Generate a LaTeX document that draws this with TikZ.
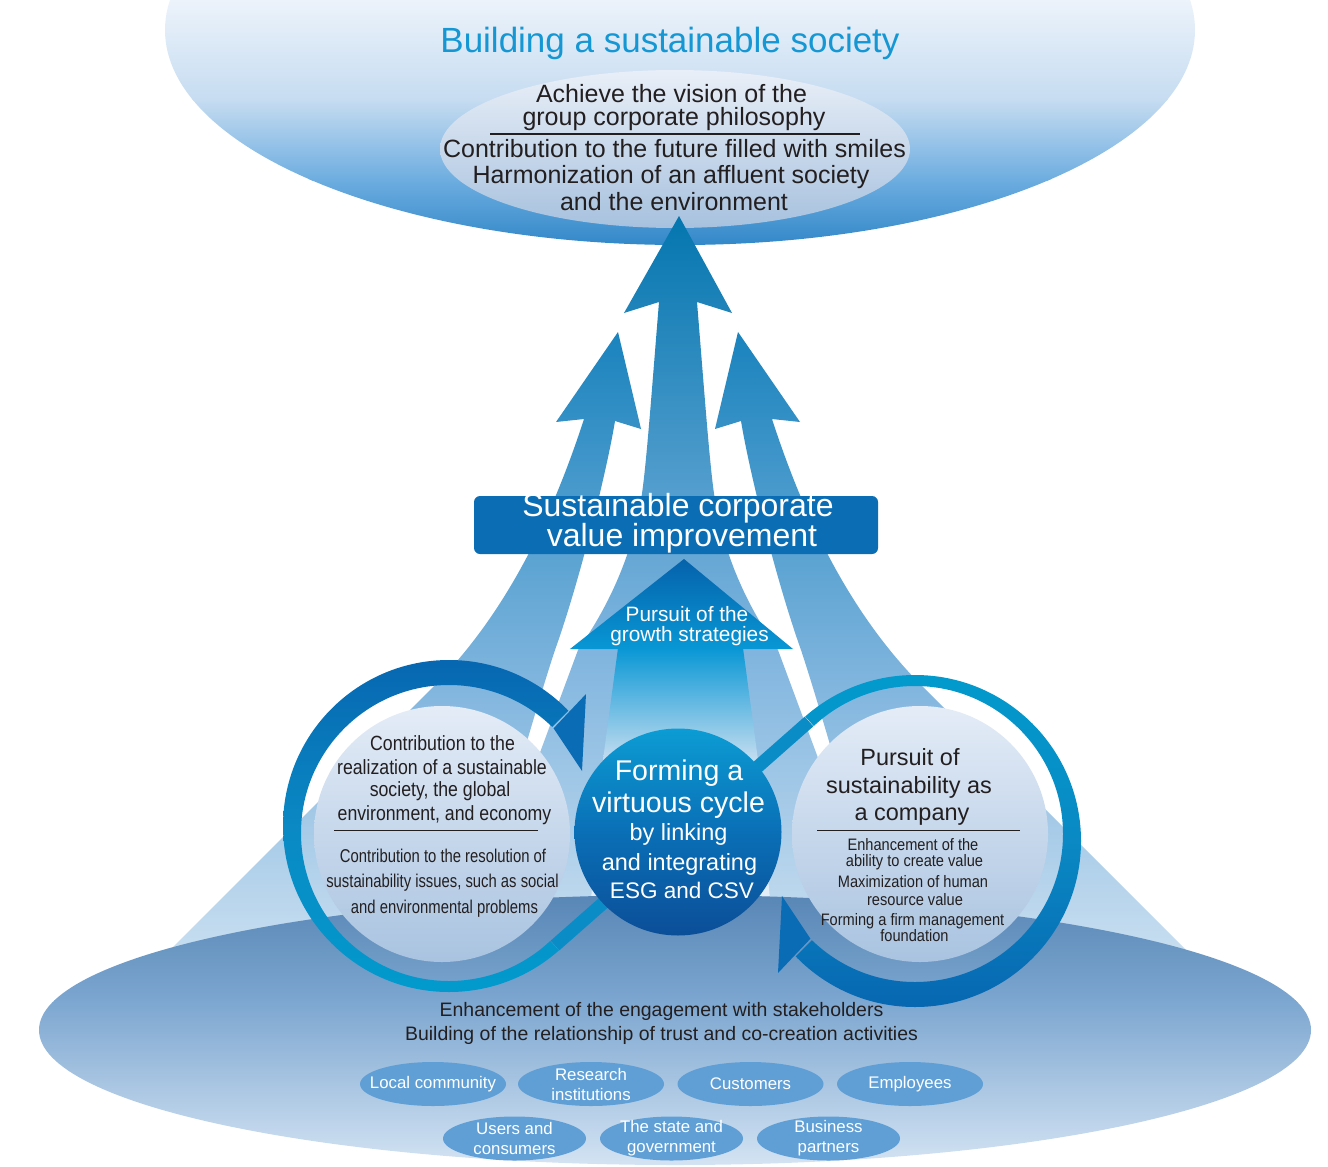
\documentclass[tikz,border=0pt]{standalone}
\usepackage{fontspec}
\setmainfont{Liberation Sans}
\newfontfamily\condA[FakeStretch=0.86]{Liberation Sans}
\newfontfamily\condB[FakeStretch=0.80]{Liberation Sans}
\newfontfamily\condC[FakeStretch=0.88]{Liberation Sans}
\usetikzlibrary{shapes.geometric}
\definecolor{txtdark}{HTML}{231F20}
\definecolor{titleblue}{HTML}{1597D3}
\definecolor{boxblue}{HTML}{0B6EB5}
\definecolor{stakeblue}{HTML}{5F9FD6}
\definecolor{headblue}{HTML}{0A6CB5}
\definecolor{diagblue}{HTML}{0A8DC7}
\definecolor{topA}{HTML}{EEF4FB}
\definecolor{topB}{HTML}{C6DCF1}
\definecolor{topC}{HTML}{6DADE0}
\definecolor{topD}{HTML}{2E85C7}
\definecolor{innerTop}{HTML}{E9EFF8}
\definecolor{innerBot}{HTML}{A7C1DE}
\definecolor{sidetop}{HTML}{1A83BD}
\definecolor{sidemid}{HTML}{84B7DF}
\definecolor{fanbot}{HTML}{E4EEF7}
\definecolor{ctop}{HTML}{0476AF}
\definecolor{cmid}{HTML}{7DB3DE}
\definecolor{pgtop}{HTML}{0562AB}
\definecolor{pgbot}{HTML}{0897D5}
\definecolor{pgfade}{HTML}{C4DDF0}
\definecolor{pgfadeb}{HTML}{E4EEF8}
\definecolor{botA}{HTML}{5785B4}
\definecolor{botB}{HTML}{7CA6D0}
\definecolor{botC}{HTML}{D6E5F4}
\definecolor{disctop}{HTML}{E4ECF7}
\definecolor{discbot}{HTML}{A9C3E0}
\definecolor{ringdark}{HTML}{0767B1}
\definecolor{ringmid}{HTML}{0A89C4}
\definecolor{ringcyan}{HTML}{029ACD}
\definecolor{circtop}{HTML}{0C9CD4}
\definecolor{circmid}{HTML}{0A6FB6}
\definecolor{circbot}{HTML}{0B4E98}
\tikzset{
  lbl/.style={anchor=base, inner sep=0pt, text=txtdark},
  wlbl/.style={anchor=base, inner sep=0pt, text=white},
  stake/.style={ellipse, fill=stakeblue, inner sep=0pt, minimum width=109.5pt,
     minimum height=33pt},
  rowb/.style={stake, minimum width=107.25pt},
  staketxt/.style={inner sep=0pt, text=white, align=center,
     font=\fontsize{12.6pt}{15pt}\selectfont},
  disc/.style={circle, inner sep=0pt, minimum size=192pt, top color=disctop, bottom color=discbot},
  rulel/.style={txtdark, line width=0.8pt}
}
\begin{document}
\begin{tikzpicture}[x=0.75pt,y=-0.75pt]
\useasboundingbox (0,0) rectangle (1328,1167);

% ---- top ellipse
\begin{scope}
  \clip (680,30) ellipse [x radius=515, y radius=215];
  \shade[top color=topA, bottom color=topB] (0,-5) rectangle (1328,100);
  \shade[top color=topB, bottom color=topC] (0,99.5) rectangle (1328,180);
  \shade[top color=topC, bottom color=topD] (0,179.5) rectangle (1328,250);
\end{scope}
\shade[top color=innerTop, bottom color=innerBot] (675,149) ellipse [x radius=235, y radius=79];

% ---- big arrows
\shade[top color=sidetop, bottom color=fanbot, middle color=sidemid]
  (618,332) -- (641,429) -- (615,421) .. controls (607,470) and (580,580) .. (555,650)
  .. controls (535,710) and (480,900) .. (440,1060) -- (60,1060) -- (433,687)
  .. controls (500,620) and (548,530) .. (584,419) -- (556,422) -- cycle;
\shade[top color=sidetop, bottom color=fanbot, middle color=sidemid]
  (738,332) -- (715,429) -- (741,421) .. controls (749,470) and (776,580) .. (801,650)
  .. controls (821,710) and (876,900) .. (916,1060) -- (1296,1060) -- (923,687)
  .. controls (856,620) and (808,530) .. (772,419) -- (800,422) -- cycle;
\shade[top color=ctop, bottom color=fanbot, middle color=cmid]
  (679,216) -- (732,313) -- (697,302) .. controls (705,400) and (710,470) .. (715,500)
  .. controls (725,560) and (750,610) .. (778,650) -- (930,1060) -- (426,1060)
  -- (578,650) .. controls (606,610) and (631,560) .. (641,500)
  .. controls (646,470) and (651,400) .. (659,302) -- (624,313) -- cycle;

% ---- value box
\node[fill=boxblue, rounded corners=4.5pt, minimum width=303pt, minimum height=43.5pt, inner sep=0pt] (scv) at (676,525) {};
\node[wlbl, font=\fontsize{24pt}{28pt}\selectfont] (scv1) at (678,516.5) {Sustainable corporate};
\node[wlbl, font=\fontsize{24pt}{28pt}\selectfont] (scv2) at (682,546) {value improvement};

% ---- growth strategies arrow
\shade[top color=pgbot, bottom color=pgfade] (618,648) -- (743,648) -- (758,760) -- (603,760) -- cycle;
\shade[top color=pgfade, bottom color=pgfadeb] (603,759.5) -- (758,759.5) -- (770,900) -- (591,900) -- cycle;
\shade[top color=pgtop, bottom color=pgbot] (684,559) -- (793,649) -- (570,649) -- cycle;
\node[wlbl, font=\fontsize{15.6pt}{18pt}\selectfont] (pg1) at (687,621.7) {Pursuit of the};
\node[wlbl, font=\fontsize{15.6pt}{18pt}\selectfont] (pg2) at (689.5,641.7) {growth strategies};

% ---- bottom ellipse
\begin{scope}
  \clip (675,1030) ellipse [x radius=636, y radius=135];
  \shade[top color=botA, bottom color=botB] (0,890) rectangle (1328,1000.5);
  \shade[top color=botB, bottom color=botC] (0,1000) rectangle (1328,1170);
\end{scope}

% ---- discs
\node[disc] (ldisc) at (442,834) {};
\node[disc] (rdisc) at (920,834) {};

% ---- rings
\begin{scope}
  \clip (449,830) -- (624.3,1022.1) -- (449,1090) -- (189,830) -- (449,570) -- (632.8,646.2) -- cycle;
  \shade[even odd rule, top color=ringdark, bottom color=ringcyan, middle color=ringmid]
    (449,826) circle [radius=166] (449,833) circle [radius=148];
\end{scope}
\begin{scope}
  \clip (915,837) -- (739.8,644.9) -- (915,577) -- (1175,837) -- (915,1097) -- (731.2,1020.8) -- cycle;
  \shade[even odd rule, top color=ringcyan, bottom color=ringdark, middle color=ringmid]
    (915,841) circle [radius=166] (915,834) circle [radius=148];
\end{scope}
\coordinate (dA) at (555,945.5);
\coordinate (dB) at (809,721.5);
\draw[diagblue, line width=9.75pt] (dA) -- (dB);
\fill[headblue] (553.6,728.3) -- (586,694) -- (582,771) -- cycle;
\fill[headblue] (810.4,938.7) -- (778,973) -- (782,896) -- cycle;

% ---- centre circle
\node[circle, inner sep=0pt, minimum size=155.25pt, top color=circtop, bottom color=circbot, middle color=circmid] (vc) at (678,832) {};
\node[wlbl, font=\fontsize{21.4pt}{24pt}\selectfont] (vc1) at (679,780) {Forming a};
\node[wlbl, font=\fontsize{21.4pt}{24pt}\selectfont] (vc2) at (678.5,812) {virtuous cycle};
\node[wlbl, font=\fontsize{17.6pt}{20pt}\selectfont] (vc3) at (678.5,840) {by linking};
\node[wlbl, font=\fontsize{17.6pt}{20pt}\selectfont] (vc4) at (679.5,870) {and integrating};
\node[wlbl, font=\fontsize{16.9pt}{20pt}\selectfont] (vc5) at (682,898) {ESG and CSV};

% ---- top texts
\node[lbl, text=titleblue, font=\fontsize{26.25pt}{30pt}\selectfont] (title) at (670,52) {Building a sustainable society};
\node[lbl, font=\fontsize{18.75pt}{22pt}\selectfont] (v1) at (671.5,102) {Achieve the vision of the};
\node[lbl, font=\fontsize{18.75pt}{22pt}\selectfont] (v2) at (674,125) {group corporate philosophy};
\draw[rulel] (490,134) -- (860,134);
\node[lbl, font=\fontsize{18.75pt}{22pt}\selectfont] (v3) at (674.5,157) {Contribution to the future filled with smiles};
\node[lbl, font=\fontsize{18.75pt}{22pt}\selectfont] (v4) at (671,183) {Harmonization of an affluent society};
\node[lbl, font=\fontsize{18.75pt}{22pt}\selectfont] (v5) at (674,210) {and the environment};

% ---- left disc texts
\node[lbl, font=\condA\fontsize{15.45pt}{18pt}\selectfont] (l1) at (442.5,750.7) {Contribution to the};
\node[lbl, font=\condA\fontsize{15.45pt}{18pt}\selectfont] (l2) at (442,774) {realization of a sustainable};
\node[lbl, font=\condA\fontsize{15.45pt}{18pt}\selectfont] (l3) at (440,796.7) {society, the global};
\node[lbl, font=\condA\fontsize{15.45pt}{18pt}\selectfont] (l4) at (444.5,820) {environment, and economy};
\draw[rulel] (334,830.7) -- (538,830.7);
\node[lbl, font=\condB\fontsize{13.9pt}{16pt}\selectfont] (l5) at (443,862.3) {Contribution to the resolution of};
\node[lbl, font=\condB\fontsize{13.9pt}{16pt}\selectfont] (l6) at (442.5,887.7) {sustainability issues, such as social};
\node[lbl, font=\condB\fontsize{13.9pt}{16pt}\selectfont] (l7) at (444.5,913.3) {and environmental problems};

% ---- right disc texts
\node[lbl, font=\fontsize{17.6pt}{20pt}\selectfont] (r1) at (910,765.7) {Pursuit of};
\node[lbl, font=\fontsize{17.6pt}{20pt}\selectfont] (r2) at (909,793.3) {sustainability as};
\node[lbl, font=\fontsize{17.6pt}{20pt}\selectfont] (r3) at (912,820) {a company};
\draw[rulel] (817,830.7) -- (1020,830.7);
\node[lbl, font=\condC\fontsize{12.45pt}{14pt}\selectfont] (r4) at (913,850) {Enhancement of the};
\node[lbl, font=\condC\fontsize{12.45pt}{14pt}\selectfont] (r5) at (914.5,866.7) {ability to create value};
\node[lbl, font=\condC\fontsize{12.45pt}{14pt}\selectfont] (r6) at (913,887.3) {Maximization of human};
\node[lbl, font=\condC\fontsize{12.45pt}{14pt}\selectfont] (r7) at (915,905) {resource value};
\node[lbl, font=\condC\fontsize{12.45pt}{14pt}\selectfont] (r8) at (912.5,925) {Forming a firm management};
\node[lbl, font=\condC\fontsize{12.45pt}{14pt}\selectfont] (r9) at (914.5,941.7) {foundation};

% ---- bottom texts
\node[lbl, font=\fontsize{14.6pt}{17pt}\selectfont] (b1) at (661.5,1016.7) {Enhancement of the engagement with stakeholders};
\node[lbl, font=\fontsize{14.6pt}{17pt}\selectfont] (b2) at (661.5,1040) {Building of the relationship of trust and co-creation activities};

% ---- stakeholders
\node[stake] (s1) at (433,1084) {};
\node[stake] (s2) at (591,1084) {};
\node[stake] (s3) at (750.5,1084) {};
\node[stake] (s4) at (910,1084) {};
\node[rowb] (s5) at (514.5,1138.5) {};
\node[rowb] (s6) at (671.5,1138.5) {};
\node[rowb] (s7) at (828.5,1138.5) {};
\node[staketxt] (t1) at (s1) {Local community};
\node[staketxt] (t2) at (s2) {Research\\institutions};
\node[staketxt] (t3) at (s3) {Customers};
\node[staketxt] (t4) at (s4) {Employees};
\node[staketxt] (t5) at (s5) {Users and\\consumers};
\node[staketxt] (t6) at (s6) {The state and\\government};
\node[staketxt] (t7) at (s7) {Business\\partners};
\end{tikzpicture}
\end{document}
